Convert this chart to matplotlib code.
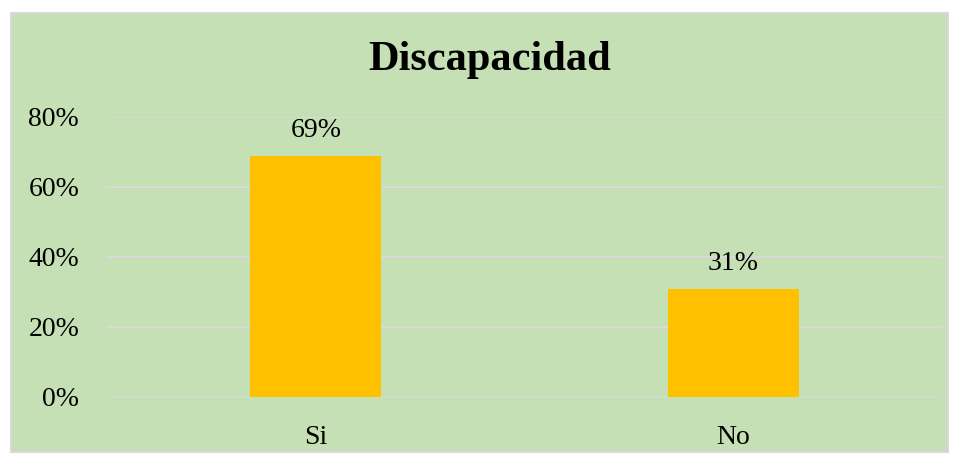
import matplotlib.pyplot as plt
import matplotlib.patches as patches

categories = ['Si', 'No']
values = [0.69, 0.31]
value_labels = ['69%', '31%']
ytick_vals = [0, 0.2, 0.4, 0.6, 0.8]
ytick_labels = ['0%', '20%', '40%', '60%', '80%']

plt.rcParams['font.family'] = ['Liberation Serif', 'DejaVu Serif']

fig = plt.figure(figsize=(9.56, 4.59), dpi=100)
fig.patch.set_facecolor('white')

# green chart area with light border
bg = patches.Rectangle((11 / 956, 1 - 452 / 459), 937 / 956, 439 / 459,
                       transform=fig.transFigure, facecolor='#C5E0B4',
                       edgecolor='#D9D9D9', linewidth=1.5, zorder=-10)
fig.patches.append(bg)

ax = fig.add_axes([107 / 956, 1 - 397 / 459, 835 / 956, 280 / 459])
ax.set_facecolor('none')

x = range(len(categories))
ax.bar(x, values, width=0.314, color='#FFC000', zorder=2)
for xi, v, lab in zip(x, values, value_labels):
    ax.annotate(lab, (xi, v), xytext=(0, 9), textcoords='offset points',
                ha='center', va='bottom', fontsize=20, color='black')

ax.set_xlim(-0.5, 1.5)
ax.set_ylim(0, 0.8)
ax.set_yticks(ytick_vals)
ax.set_yticklabels(ytick_labels, fontsize=20)
ax.set_xticks(list(x))
ax.set_xticklabels(categories, fontsize=20)
ax.tick_params(axis='both', length=0)
ax.tick_params(axis='y', pad=20)
ax.tick_params(axis='x', pad=20)
ax.grid(axis='y', color='#D9D9D9', linewidth=1.5, zorder=1)
ax.set_axisbelow(True)
for s in ax.spines.values():
    s.set_visible(False)

fig.text(490 / 956, 1 - 60 / 459, 'Discapacidad', ha='center', va='center',
         fontsize=30.5, fontweight='bold', color='black')

fig.savefig('out.png', dpi=100)
